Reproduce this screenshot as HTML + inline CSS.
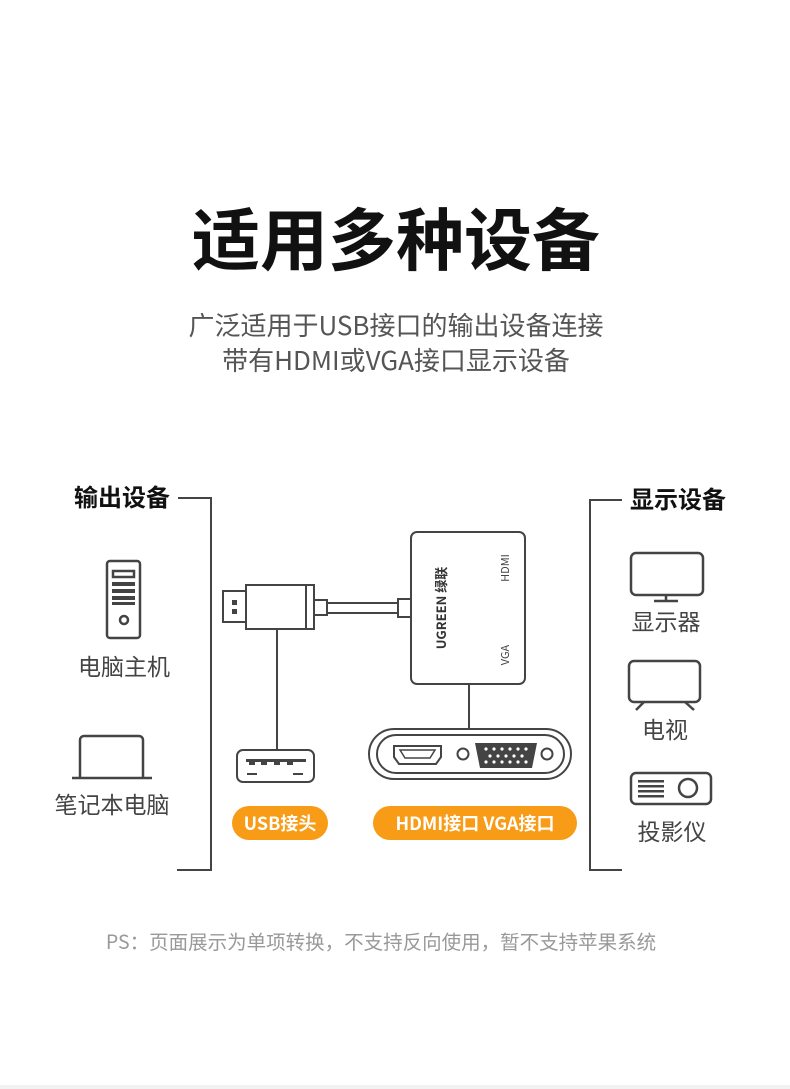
<!DOCTYPE html>
<html><head><meta charset="utf-8"><style>
html,body{margin:0;padding:0;background:#fff}
svg{display:block}
text{font-family:"Noto Sans CJK SC","Liberation Sans",sans-serif}
</style></head><body>
<svg width="790" height="1089" viewBox="0 0 790 1089" xmlns="http://www.w3.org/2000/svg">
<rect width="790" height="1089" fill="#fff"/>
<rect y="1085" width="790" height="4" fill="#f2f2f2"/>
<text x="396" y="265" text-anchor="middle" font-size="68" font-weight="bold" fill="#111">适用多种设备</text>
<text x="396" y="335" text-anchor="middle" font-size="26" fill="#555">广泛适用于USB接口的输出设备连接</text>
<text x="396" y="370" text-anchor="middle" font-size="26" fill="#555">带有HDMI或VGA接口显示设备</text>

<g stroke="#444" stroke-width="2" fill="none">
<path d="M178 498 H211 V870 H177"/>
<path d="M622 500 H590 V870 H622"/>
</g>
<text x="122" y="506" text-anchor="middle" font-size="24" font-weight="bold" fill="#111">输出设备</text>
<text x="678" y="508" text-anchor="middle" font-size="24" font-weight="bold" fill="#111">显示设备</text>

<g stroke="#444" stroke-width="2.5" fill="none">
<rect x="107" y="561" width="33" height="77" rx="3"/>
<rect x="113" y="571" width="21" height="6"/>
<circle cx="124" cy="620" r="4"/>
</g>
<g fill="#444"><rect x="112" y="582" width="23" height="4"/><rect x="112" y="589" width="23" height="4"/><rect x="112" y="596" width="23" height="4"/><rect x="112" y="602" width="23" height="3"/></g>
<text x="124" y="675" text-anchor="middle" font-size="23" fill="#444">电脑主机</text>
<g stroke="#444" stroke-width="2.5" fill="none">
<path d="M80 777 V740 a4 4 0 0 1 4 -4 H139 a4 4 0 0 1 4 4 V777"/>
</g>
<line x1="72" y1="778" x2="152" y2="778" stroke="#444" stroke-width="2.5"/>
<text x="112" y="813" text-anchor="middle" font-size="23" fill="#444">笔记本电脑</text>

<g stroke="#444" stroke-width="2.5" fill="none">
<rect x="631" y="553" width="72" height="42" rx="5"/>
<line x1="666" y1="595" x2="666" y2="601"/><line x1="654" y1="601" x2="678" y2="601"/>
<rect x="629" y="661" width="71" height="41" rx="5"/>
<line x1="644" y1="702" x2="636" y2="710"/><line x1="685" y1="702" x2="694" y2="710"/>
<rect x="631" y="773" width="80" height="31" rx="5"/>
<circle cx="688" cy="788" r="9"/>
</g>
<g fill="#444"><rect x="638" y="780" width="26" height="2.5"/><rect x="638" y="785" width="26" height="2.5"/><rect x="638" y="790" width="26" height="2.5"/><rect x="638" y="795" width="26" height="2.5"/></g>
<text x="666" y="630" text-anchor="middle" font-size="23" fill="#444">显示器</text>
<text x="665" y="738" text-anchor="middle" font-size="23" fill="#444">电视</text>
<text x="672" y="840" text-anchor="middle" font-size="23" fill="#444">投影仪</text>

<g stroke="#444" stroke-width="2" fill="#fff">
<rect x="223" y="591" width="23" height="31"/>
<rect x="246" y="585" width="68" height="44"/>
<line x1="306" y1="585" x2="306" y2="629"/>
<rect x="314" y="600" width="13" height="15"/>
<rect x="327" y="603" width="71" height="10"/>
<rect x="398" y="599" width="13" height="18"/>
<rect x="411" y="532" width="114" height="152" rx="6"/>
<line x1="277" y1="629" x2="277" y2="750"/>
<line x1="469" y1="684" x2="469" y2="729"/>
<rect x="237" y="750" width="77" height="32" rx="6"/>
<rect x="369" y="729" width="202" height="50" rx="25"/>
<rect x="377" y="735" width="187" height="38" rx="19"/>
<path d="M394 746 H441 V757 L436 764 H399 L394 757 Z"/>
<circle cx="463" cy="754" r="5.5"/>
<circle cx="547" cy="754" r="5.5"/>
</g>
<rect x="232" y="600" width="5" height="5" fill="#444"/><rect x="232" y="609" width="5" height="5" fill="#444"/>
<g fill="#444"><rect x="246" y="759" width="60" height="3"/><rect x="249" y="762" width="6" height="3"/><rect x="261" y="762" width="6" height="3"/><rect x="274" y="762" width="6" height="3"/><rect x="287" y="762" width="6" height="3"/><rect x="247" y="773" width="10" height="2"/><rect x="293" y="773" width="10" height="2"/></g>
<path d="M400 750 H435 L430 758 H405 Z" fill="none" stroke="#444" stroke-width="1.5"/>
<path d="M475 743 H537 L532 768 H480 Z" fill="#444"/>
<g fill="#fff"><circle cx="486" cy="749" r="1.6"/><circle cx="494" cy="749" r="1.6"/><circle cx="502" cy="749" r="1.6"/><circle cx="510" cy="749" r="1.6"/><circle cx="518" cy="749" r="1.6"/><circle cx="526" cy="749" r="1.6"/>
<circle cx="490" cy="756" r="1.6"/><circle cx="498" cy="756" r="1.6"/><circle cx="506" cy="756" r="1.6"/><circle cx="514" cy="756" r="1.6"/><circle cx="522" cy="756" r="1.6"/>
<circle cx="486" cy="762" r="1.6"/><circle cx="494" cy="762" r="1.6"/><circle cx="502" cy="762" r="1.6"/><circle cx="510" cy="762" r="1.6"/><circle cx="518" cy="762" r="1.6"/><circle cx="526" cy="762" r="1.6"/></g>
<text transform="translate(446 608) rotate(-90)" text-anchor="middle" font-size="13" font-weight="bold" fill="#333">UGREEN 绿联</text>
<text transform="translate(509 568) rotate(-90)" text-anchor="middle" font-size="11" fill="#444">HDMI</text>
<text transform="translate(509 655) rotate(-90)" text-anchor="middle" font-size="11" fill="#444">VGA</text>

<rect x="232" y="806" width="96" height="34" rx="17" fill="#f89b16"/>
<rect x="373" y="806" width="204" height="34" rx="17" fill="#f89b16"/>
<text x="280" y="830" text-anchor="middle" font-size="18" font-weight="bold" fill="#fff">USB接头</text>
<text x="475" y="830" text-anchor="middle" font-size="18" font-weight="bold" fill="#fff">HDMI接口 VGA接口</text>

<text x="381" y="949" text-anchor="middle" font-size="19.5" fill="#999">PS：页面展示为单项转换，不支持反向使用，暂不支持苹果系统</text>
</svg>
</body></html>
